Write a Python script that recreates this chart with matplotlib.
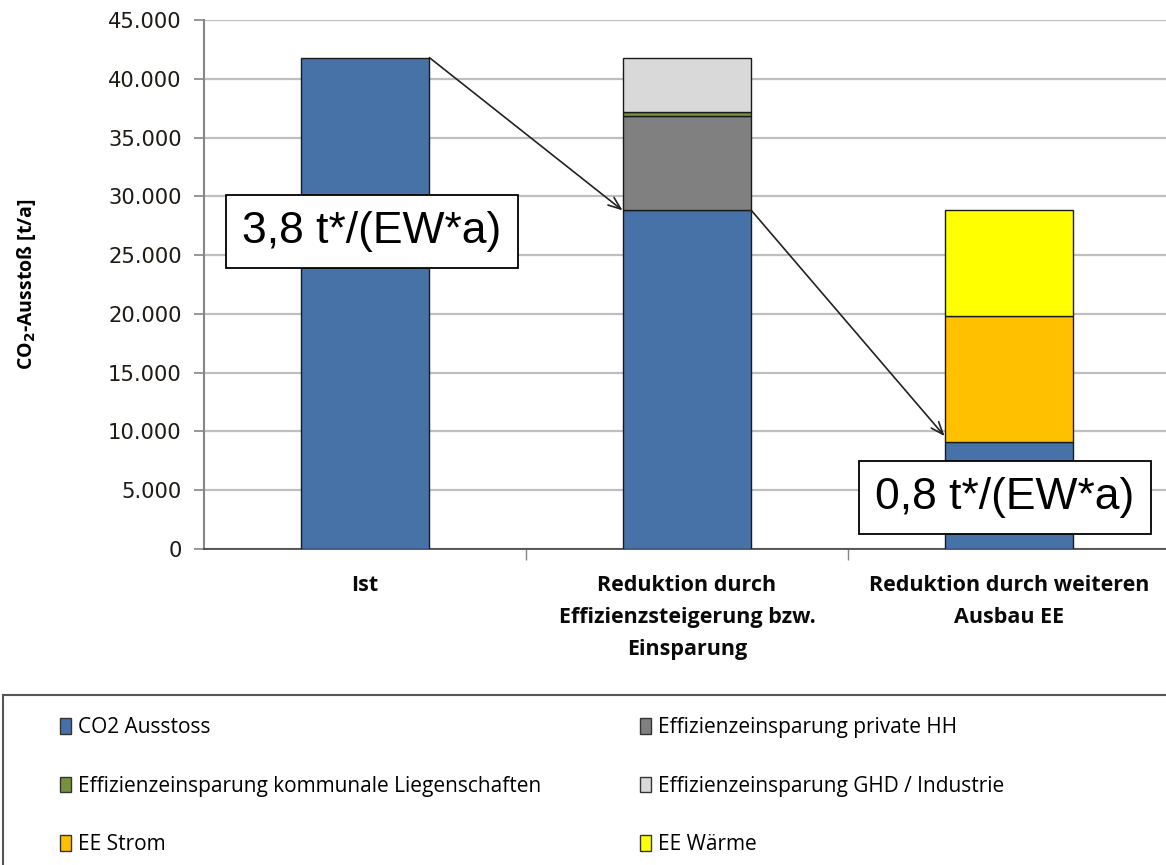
import matplotlib
matplotlib.use("Agg")
import matplotlib.pyplot as plt
from matplotlib.patches import Rectangle, Patch
import numpy as np

categories = ["Ist",
              "Reduktion durch\nEffizienzsteigerung bzw.\nEinsparung",
              "Reduktion durch weiteren\nAusbau EE"]
series_names = ["CO2 Ausstoss",
                "Effizienzeinsparung private HH",
                "Effizienzeinsparung kommunale Liegenschaften",
                "Effizienzeinsparung GHD / Industrie",
                "EE Strom",
                "EE Wärme"]
co2_ausstoss = [41800, 28800, 9100]
eff_private_hh = [0, 8000, 0]
eff_kommunal = [0, 350, 0]
eff_ghd = [0, 4650, 0]
ee_strom = [0, 0, 10700]
ee_waerme = [0, 0, 9000]
y_ticks = [0, 5000, 10000, 15000, 20000, 25000, 30000, 35000, 40000, 45000]
y_tick_labels = ["0", "5.000", "10.000", "15.000", "20.000", "25.000",
                 "30.000", "35.000", "40.000", "45.000"]
per_capita_labels = ["3,8 t*/(EW*a)", "0,8 t*/(EW*a)"]

colors = ["#4672A8", "#808080", "#76923C", "#D9D9D9", "#FFC000", "#FFFF00"]

fig = plt.figure(figsize=(11.66, 8.65), dpi=100)
ax = fig.add_axes([204 / 1166, 1 - 549 / 865, 966 / 1166, 529 / 865])

x = np.arange(len(categories))
stacks = [co2_ausstoss, eff_private_hh, eff_kommunal, eff_ghd, ee_strom, ee_waerme]
bottom = np.zeros(len(categories))
for vals, col in zip(stacks, colors):
    vals = np.asarray(vals, dtype=float)
    mask = vals > 0
    ax.bar(x[mask], vals[mask], width=0.4, bottom=bottom[mask], color=col,
           edgecolor="#1a1a1a", linewidth=1.0, zorder=3)
    bottom += vals

ax.set_xlim(-0.5, 2.5)
ax.set_ylim(0, 45000)
ax.set_yticks(y_ticks)
ax.set_yticklabels(y_tick_labels, fontsize=15.2, family="DejaVu Sans", color="#1e1a16")
ax.yaxis.grid(True, color="#BFBFBF", linewidth=1.6, zorder=0)
ax.set_axisbelow(True)
ax.tick_params(axis="y", length=7, width=1.2, color="#868686", pad=9)

ax.set_xticks(x)
ax.set_xticklabels(categories, fontsize=15.5, fontweight="bold", family="Open Sans",
                   linespacing=1.68, va="top", color="#0a0a0a")
ax.tick_params(axis="x", which="major", length=0, pad=19)
ax.set_xticks([0.5, 1.5], minor=True)
ax.tick_params(axis="x", which="minor", length=8, width=1.0, color="#868686")

for side in ["top", "right"]:
    ax.spines[side].set_visible(False)
ax.spines["left"].set_color("#868686")
ax.spines["left"].set_linewidth(1.5)
ax.spines["bottom"].set_color("#404040")
ax.spines["bottom"].set_linewidth(1.2)

ax.set_ylabel(r"CO$_\mathbf{2}$-Ausstoß [t/a]", fontsize=14, fontweight="bold",
              family="Open Sans")
ax.yaxis.set_label_coords(-0.172, 0.5)

# arrows from the top of one bar to the remaining CO2 level of the next
arrow_kw = dict(arrowstyle="->,head_length=0.9,head_width=0.35", color="#222222",
                lw=1.2, shrinkA=0, shrinkB=0)
ax.annotate("", xy=(0.8, co2_ausstoss[1]), xytext=(0.2, co2_ausstoss[0]),
            arrowprops=arrow_kw, zorder=5)
ax.annotate("", xy=(1.8, 9600), xytext=(1.2, co2_ausstoss[1]),
            arrowprops=arrow_kw, zorder=5)

box = dict(boxstyle="square,pad=0.36", facecolor="white", edgecolor="black", linewidth=1.3)
fig.text(372 / 1166, 1 - 231 / 865, per_capita_labels[0], fontsize=32,
         family="Liberation Sans", ha="center", va="center", bbox=box, zorder=10)
fig.text(1005 / 1166, 1 - 497 / 865, per_capita_labels[1], fontsize=32,
         family="Liberation Sans", ha="center", va="center", bbox=box, zorder=10)

# legend frame running off the right edge
fig.patches.append(Rectangle((3 / 1166, -0.05), 1.2, (865 - 695) / 865 + 0.05,
                             transform=fig.transFigure, facecolor="white",
                             edgecolor="#555555", linewidth=1.5, zorder=0))
handles = [Patch(facecolor=c, edgecolor="#333333", linewidth=1.0) for c in colors]
order = [0, 2, 4, 1, 3, 5]
leg = fig.legend([handles[i] for i in order], [series_names[i] for i in order],
                 ncol=2, frameon=False, loc="upper left",
                 bbox_to_anchor=(52 / 1166, 1 - 709 / 865),
                 prop={"family": "Open Sans", "size": 15},
                 handlelength=0.5, handleheight=0.75, handletextpad=0.35,
                 labelspacing=1.8, columnspacing=4.75, borderaxespad=0)

fig.savefig("out.png", dpi=100)
